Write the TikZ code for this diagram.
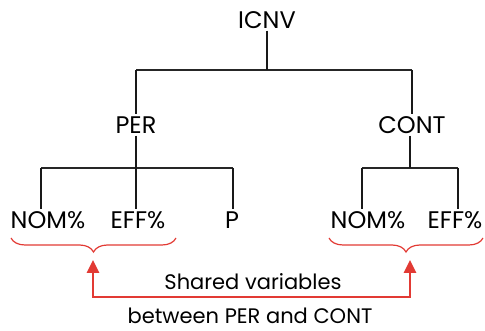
\documentclass[tikz,border=0pt]{standalone}
\usepackage{fontspec}
\setmainfont{Poppins}
\usetikzlibrary{arrows.meta,positioning,calc,decorations.pathreplacing}
\definecolor{hpred}{RGB}{226,58,52}

\begin{document}
\begin{tikzpicture}[x=1pt,y=1pt,
    lbl/.style={font=\fontsize{24}{27}\selectfont, inner sep=2pt},
    note/.style={font=\fontsize{21}{24}\selectfont, inner sep=2pt},
    bar/.style={line width=1.7pt, black!85},
    stem/.style={line width=2.6pt, black!90},
    grp/.style={hpred, line width=1.2pt, decorate, decoration={brace, mirror, amplitude=14pt}},
    link/.style={hpred, line width=2.6pt, {Triangle[length=13pt,width=12pt]}-{Triangle[length=13pt,width=12pt]}}]
    \useasboundingbox (0,0) rectangle (485,331);

    % tree nodes
    \node[lbl] (icnv) at (267,311) {ICNV};
    \node[lbl] (per) at (136,206) {PER};
    \node[lbl] (cont) at (412,206) {CONT};
    \node[lbl] (nomA) at (48,111) {NOM\%};
    \node[lbl] (effA) at (138,111) {EFF\%};
    \node[lbl] (pv) at (232,111) {P};
    \node[lbl] (nomB) at (368,111) {NOM\%};
    \node[lbl] (effB) at (455,111) {EFF\%};

    % junction points
    \coordinate (topbar) at (267,261);
    \coordinate (perbar) at (136,163);
    \coordinate (contbar) at (410,163);
    \coordinate (dnomA) at (41,163);
    \coordinate (dpv) at (233,163);
    \coordinate (dnomB) at (362,163);
    \coordinate (deffB) at (458,163);

    % horizontal bars
    \draw[bar] (per |- topbar) -- (cont |- topbar);
    \draw[bar] (dnomA) -- (dpv);
    \draw[bar] (dnomB) -- (deffB);

    % stems
    \draw[stem] (icnv.south) -- (topbar);
    \draw[stem] (per |- topbar) -- (per.north);
    \draw[stem] (cont |- topbar) -- (cont.north);
    \draw[stem] (per.south) -- (perbar);
    \draw[stem] (contbar |- cont.south) -- (contbar);
    \draw[stem] (dnomA) -- (dnomA |- nomA.north);
    \draw[stem] (perbar) -- (perbar |- effA.north);
    \draw[stem] (dpv) -- (dpv |- pv.north);
    \draw[stem] (dnomB) -- (dnomB |- nomB.north);
    \draw[stem] (deffB) -- (deffB |- effB.north);

    % shared variables
    \draw[grp] (11,93) -- (176,93) coordinate[midway] (braceA);
    \draw[grp] (329,93) -- (483,93) coordinate[midway] (braceB);
    \coordinate (tipA) at (93,71);
    \coordinate (tipB) at (410,71);
    \draw[link] (tipA) -- (93,34) -- (410,34) -- (tipB);

    \node[note] (shared) at (253,49) {Shared variables};
    \node[note] (betw) at (250,15) {between PER and CONT};
\end{tikzpicture}
\end{document}
